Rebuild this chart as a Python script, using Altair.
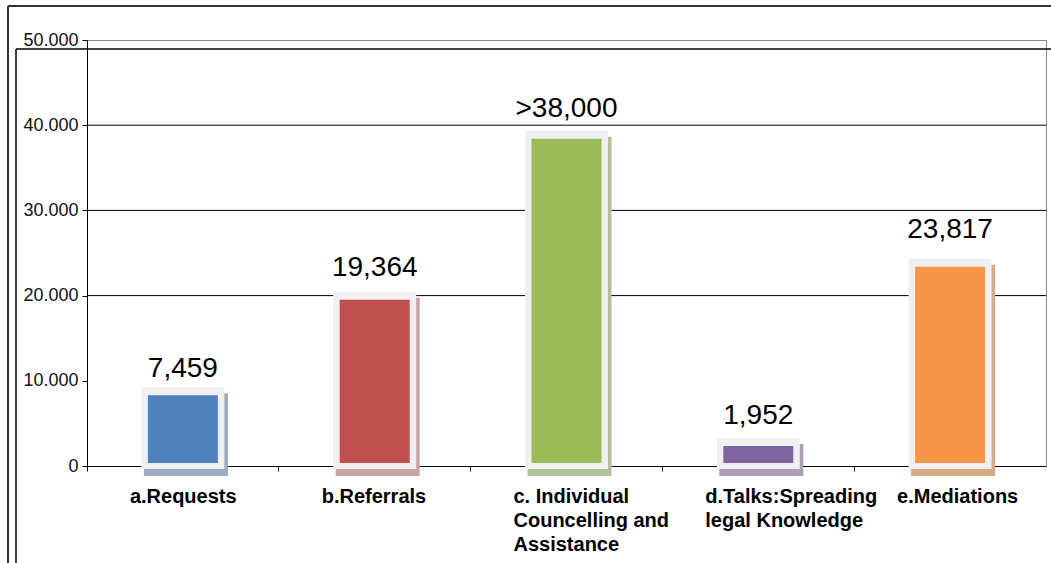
import altair as alt
import pandas as pd

# ---- data ----
keys = ["a", "b", "c", "d", "e"]
categories = [
    "a.Requests",
    "b.Referrals",
    "c. Individual\nCouncelling and\nAssistance",
    "d.Talks:Spreading\nlegal Knowledge",
    "e.Mediations",
]
bar_values = [8300, 19500, 38400, 2350, 23400]          # drawn bar heights
label_texts = ["7,459", "19,364", ">38,000", "1,952", "23,817"]
label_values = [7459, 19364, 38000, 1952, 23817]
bar_colors = ["#4F81BD", "#C0504D", "#9BBB59", "#8064A2", "#F79646"]
shadow_colors = ["#9DAAC0", "#C9A3A2", "#B4BF9E", "#A99FB8", "#D8A985"]
y_ticks = [0, 10000, 20000, 30000, 40000, 50000]
grid_values = [20000, 30000, 40000]

W, H = 959, 426

df = pd.DataFrame({
    "key": keys,
    "category": categories,
    "value": bar_values,
    "label": label_texts,
    "label_value": label_values,
    "color": bar_colors,
    "shadow": shadow_colors,
})
grid_df = pd.DataFrame({"g": grid_values})
one = pd.DataFrame({"k": [0]})

x = alt.X("key:N", sort=keys,
          scale=alt.Scale(paddingInner=0, paddingOuter=0),
          axis=alt.Axis(title=None, labels=False, bandPosition=0, tickSize=5,
                        tickColor="black", domainColor="black", grid=False))
y_scale = alt.Scale(domain=[0, 50000], nice=False, zero=True)
y_axis = alt.Axis(values=y_ticks, title=None, grid=False,
                  labelExpr="replace(format(datum.value, ','), ',', '.')",
                  labelFontSize=18, labelColor="#111111", labelFont="Liberation Sans",
                  tickSize=5, tickColor="black", domainColor="black", labelPadding=4)
y = alt.Y("value:Q", scale=y_scale, axis=y_axis)

grid = alt.Chart(grid_df).mark_rule(color="black", strokeWidth=1).encode(
    y=alt.Y("g:Q", scale=y_scale, axis=y_axis),
    x=alt.value(0), x2=alt.value(W))

base = alt.Chart(df)
shadow = base.mark_bar(width=84, xOffset=3, yOffset=-2, y2Offset=10).encode(
    x=x, y=y, y2=alt.datum(0), color=alt.Color("shadow:N", scale=None))
frame = base.mark_bar(width=83, yOffset=-8, y2Offset=3, color="#F0F0F0").encode(
    x=x, y=y, y2=alt.datum(0))
bars = base.mark_bar(width=70, y2Offset=-3).encode(
    x=x, y=y, y2=alt.datum(0), color=alt.Color("color:N", scale=None))

value_labels = base.mark_text(dy=-33, fontSize=28, baseline="middle", color="black",
                              font="Liberation Sans").encode(
    x=x, y=alt.Y("label_value:Q", scale=y_scale, axis=y_axis), text="label:N")

cat_labels = base.mark_text(align="left", baseline="top", dx=-53, fontSize=20,
                            fontWeight="bold", lineBreak="\n", lineHeight=24,
                            color="black", font="Liberation Sans").encode(
    x=x, y=alt.value(447), text="category:N")

# chart frame lines
outer_v = alt.Chart(one).mark_rule(color="#333333", strokeWidth=2).encode(
    x=alt.value(-79), y=alt.value(-34), y2=alt.value(523))
outer_h = alt.Chart(one).mark_rule(color="#333333", strokeWidth=2).encode(
    x=alt.value(-79), x2=alt.value(970), y=alt.value(-34))
inner_v = alt.Chart(one).mark_rule(color="black", strokeWidth=1.5).encode(
    x=alt.value(-71), y=alt.value(9), y2=alt.value(523))
inner_h = alt.Chart(one).mark_rule(color="black", strokeWidth=1.5).encode(
    x=alt.value(-71), x2=alt.value(970), y=alt.value(9))

chart = alt.layer(
    grid, shadow, frame, bars, value_labels, cat_labels,
    outer_v, outer_h, inner_v, inner_h
).properties(
    width=W, height=H,
    autosize=alt.AutoSizeParams(type="none"),
    padding={"left": 87, "top": 40, "right": 5, "bottom": 97},
    background="white",
).configure(font="Liberation Sans").configure_view(stroke="#888888", strokeWidth=1)

chart.save("out.html", embed_options={"renderer": "svg", "actions": False})
